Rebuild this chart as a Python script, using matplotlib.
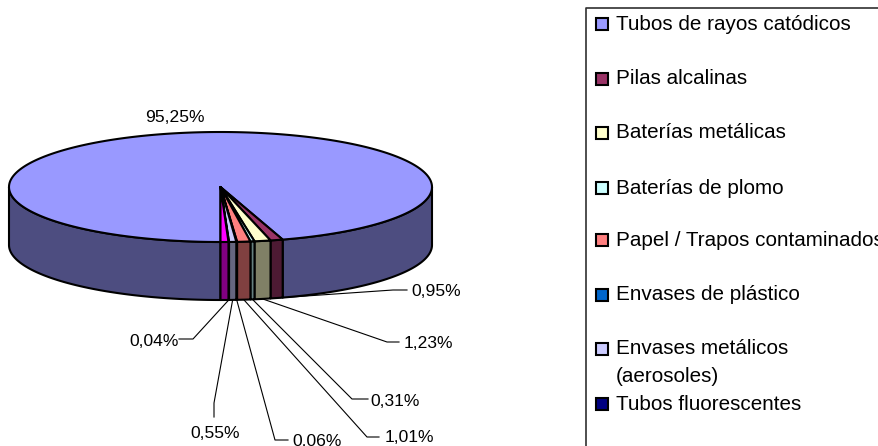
import numpy as np
import matplotlib
matplotlib.use('Agg')
import matplotlib.pyplot as plt

plt.rcParams['font.family'] = ['Liberation Sans', 'DejaVu Sans']

# Data
categories = ['Tubos de rayos catódicos', 'Pilas alcalinas', 'Baterías metálicas',
              'Baterías de plomo', 'Papel / Trapos contaminados', 'Envases de plástico',
              'Envases metálicos\n(aerosoles)', 'Tubos fluorescentes', '']
values = [95.25, 0.95, 1.23, 0.31, 1.01, 0.06, 0.55, 0.04, 0.60]
labels = ['95,25%', '0,95%', '1,23%', '0,31%', '1,01%', '0,06%', '0,55%', '0,04%', '']
colors = ['#9999FF', '#993366', '#FFFFCC', '#CCFFFF', '#FF8080',
          '#0066CC', '#CCCCFF', '#000080', '#FF00FF']

# Pie geometry, pixels
cx, cy = 220.5, 187
rx, ry = 211.5, 55
depth = 58
start = 180


def rim(t, dy=0):
    t = np.radians(t)
    return cx + rx * np.sin(t), cy - ry * np.cos(t) + dy


def dark(c):
    return tuple(v * 0.5 for v in matplotlib.colors.to_rgb(c))


fig = plt.figure(figsize=(8.79, 4.46), dpi=100)
ax = fig.add_axes([0, 0, 1, 1])
ax.set_xlim(0, 879)
ax.set_ylim(446, 0)
ax.axis('off')

angles = start + np.concatenate([[0], np.cumsum(values)]) * 360 / sum(values)

# sides first (only the front half of the rim shows)
for i, c in enumerate(colors):
    a0, a1 = angles[i], angles[i + 1]
    for lo, hi in [(90, 270), (450, 630)]:
        s, e = max(a0, lo), min(a1, hi)
        if e <= s:
            continue
        t = np.linspace(s, e, 200)
        xt, yt = rim(t)
        xb, yb = rim(t, depth)
        ax.fill(np.r_[xt, xb[::-1]], np.r_[yt, yb[::-1]], facecolor=dark(c),
                edgecolor='black', lw=1.5, joinstyle='round', zorder=2)

# top faces
for i, c in enumerate(colors):
    t = np.linspace(angles[i], angles[i + 1], 400)
    xt, yt = rim(t)
    ax.fill(np.r_[cx, xt], np.r_[cy, yt], facecolor=c, edgecolor='black',
            lw=1.5, joinstyle='round', zorder=3)

# leader elbows and label places, pixels
leaders = {
    1: [(393, 290), (407, 290)],
    2: [(387, 342), (399, 342)],
    3: [(352, 399), (368, 399)],
    4: [(367, 437), (379, 437)],
    5: [(275, 440), (288, 440)],
    6: [(214, 403), (214, 417)],
    7: [(193, 339), (179, 339)],
}
label_pos = {
    1: (411, 291, 'left'),
    2: (404, 343, 'left'),
    3: (370, 401, 'left'),
    4: (385, 438, 'left'),
    5: (292, 441, 'left'),
    6: (215, 433, 'center'),
    7: (179, 341, 'right'),
}

ax.text(175, 117, labels[0], fontsize=12.6, ha='center', va='center')
for i, pts in leaders.items():
    mid = (angles[i] + angles[i + 1]) / 2
    x0, y0 = rim(mid, depth)
    ax.plot([x0] + [p[0] for p in pts], [y0] + [p[1] for p in pts],
            color='black', lw=0.8, zorder=1)
    x, y, ha = label_pos[i]
    ax.text(x, y, labels[i], fontsize=12.6, ha=ha, va='center')

# legend box runs off the right and bottom of the picture
ax.plot([879, 586, 586], [8, 8, 446], color='#303030', lw=1.2, clip_on=True)
legend_y = [24, 79, 133, 188, 240, 295, 349, 404]
for name, c, y in zip(categories, colors, legend_y):
    ax.add_patch(plt.Rectangle((596, y - 6), 12, 12, facecolor=c,
                               edgecolor='black', lw=1.5))
    ax.text(616, y, name.split('\n')[0], fontsize=14.9, va='center', clip_on=True)
    if '\n' in name:
        ax.text(616, y + 27, name.split('\n')[1], fontsize=14.9, va='center')

fig.savefig('out.png', dpi=100)
